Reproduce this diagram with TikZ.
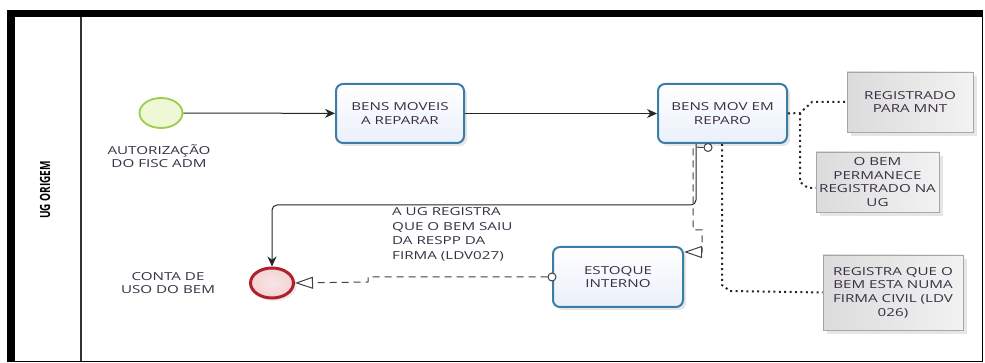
\documentclass[tikz,border=0pt]{standalone}
\usepackage{fontspec}
\setmainfont{Open Sans}[FakeStretch=1.38]
\newfontfamily\lanefont{Open Sans}[FakeStretch=0.72]
\usetikzlibrary{arrows.meta,shadows,shapes.geometric,calc}
\definecolor{txt}{HTML}{3A3042}
\definecolor{taskborder}{HTML}{3C7DA6}
\definecolor{taskfill}{HTML}{EAF0FA}
\definecolor{startborder}{HTML}{9ACD4A}
\definecolor{startfill}{HTML}{EEF8D6}
\definecolor{endborder}{HTML}{B0202A}
\definecolor{endfill}{HTML}{F3D3D5}
\tikzset{
  lbl/.style={text=txt, align=center, font=\fontsize{11}{13.6}\selectfont},
  taskbox/.style={draw=taskborder, line width=2pt, rounded corners=7pt,
    top color=white, bottom color=taskfill, minimum width=128pt, minimum height=59pt,
    text=txt, align=center, font=\fontsize{11}{13.6}\selectfont,
    drop shadow={shadow xshift=3pt, shadow yshift=-3pt, opacity=0.2, fill=gray}},
  annot/.style={draw=black!35, line width=0.8pt, left color=black!14, right color=black!5,
    text=txt, align=center, font=\fontsize{11}{13.6}\selectfont, inner sep=2pt,
    drop shadow={shadow xshift=4pt, shadow yshift=-4pt, opacity=0.2, fill=gray}},
  startev/.style={ellipse, draw=startborder, line width=1.8pt, fill=startfill,
    minimum width=43pt, minimum height=30pt, inner sep=0pt},
  endev/.style={ellipse, draw=endborder, line width=3pt, inner color=endfill!60, outer color=endfill,
    minimum width=43pt, minimum height=30pt, inner sep=0pt,
    drop shadow={shadow xshift=3pt, shadow yshift=-3pt, opacity=0.15, fill=gray}},
  seqflow/.style={draw=black!85, line width=1pt, -{Stealth[length=10pt,width=9pt]}},
  msgflow/.style={draw=black!75, line width=1pt, dash pattern=on 7pt off 5pt,
    -{Triangle[open,length=18pt,width=12pt,fill=white]}},
  msgstart/.style={circle, draw=black!75, line width=1pt, fill=white, minimum size=8pt, inner sep=0pt},
  assoc/.style={draw=black!85, line width=2pt, dash pattern=on 2pt off 3.4pt}
}
\begin{document}
\begin{tikzpicture}[x=1pt,y=-1pt]
\useasboundingbox (0,0) rectangle (985,363);
% frame
\fill[black] (7,10) rectangle (983,17);
\fill[black] (7,10) rectangle (15,362);
\draw[black, line width=1.6pt] (7,361.5) -- (983,361.5);
\draw[black, line width=1.6pt] (982.5,10) -- (982.5,362);
\draw[black!80, line width=1.3pt] (81,17) -- (81,361);
\node[rotate=90, font=\lanefont\fontsize{14}{16}\selectfont\bfseries, text=black] (lane) at (45,190) {UG ORIGEM};

% events
\node[startev] (start) at (161,113) {};
\node[lbl] (startlbl) at (159,156) {AUTORIZAÇÃO\\DO FISC ADM};
\node[endev] (end) at (272,283) {};
\node[lbl] (endlbl) at (168,283) {CONTA DE\\USO DO BEM};

% tasks
\node[taskbox] (t1) at (400,113.5) {BENS MOVEIS\\A REPARAR};
\node[taskbox, minimum width=129pt] (t2) at (722.5,113.5) {BENS MOV EM\\REPARO};
\node[taskbox, minimum width=130pt, minimum height=60pt] (est) at (618,277) {ESTOQUE\\INTERNO};

% annotations
\node[annot, minimum width=126pt, minimum height=60pt] (reg) at (910,102) {REGISTRADO\\PARA MNT};
\node[annot, minimum width=123pt, minimum height=60pt] (perm) at (877.5,182) {O BEM\\PERMANECE\\REGISTRADO NA\\UG};
\node[annot, minimum width=140pt, minimum height=75pt] (firm) at (893,292.5) {REGISTRA QUE O\\BEM ESTA NUMA\\FIRMA CIVIL (LDV\\026)};

% message label
\node[lbl, align=left, anchor=north west, inner sep=0pt, font=\fontsize{11}{14.5}\selectfont] (msglbl) at (392,207.5) {A UG REGISTRA\\QUE O BEM SAIU\\DA RESPP DA\\FIRMA (LDV027)};

% sequence flows
\draw[seqflow] (start) -- (t1);
\draw[seqflow] (t1) -- (t2);
\coordinate (s1) at ([xshift=-26.5pt]t2.south);
\draw[seqflow, rounded corners=5pt] (s1) -- ++(0,61) -| (end.north);

% message flow t2 -> estoque
\node[msgstart] (m1) at ([xshift=-14.5pt, yshift=-3.5pt]t2.south) {};
\coordinate (m1a) at (693,147);
\coordinate (m1b) at (693,230);
\coordinate (m1c) at (702,230);
\coordinate (m1d) at (702,252);
\draw[msgflow] (m1.west) -- (m1a) -- (m1b) -- (m1c) -- (m1d) -- ([yshift=25pt]est.east);

% message flow estoque -> end
\node[msgstart] (m2) at (est.west) {};
\coordinate (m2a) at (368,277);
\coordinate (m2b) at (368,282);
\draw[msgflow] (m2.west) -- (m2a) -- (m2b) -- (end.east);

% associations
\coordinate (a1) at (800,113);
\coordinate (a2) at (812,102);
\draw[assoc] (t2.east) -- (a1) -- (a2) -- (reg.west);
\coordinate (a3) at (800,182);
\coordinate (a4) at (808,188);
\draw[assoc] (a1) -- (a3) -- (a4) -- ([yshift=-6pt]perm.west);
\coordinate (a5) at ([xshift=-0.5pt]t2.south);
\coordinate (a6) at (722,285);
\coordinate (a7) at (730,291);
\draw[assoc] (a5) -- (a6) -- (a7) -- (firm.west);
\end{tikzpicture}
\end{document}
